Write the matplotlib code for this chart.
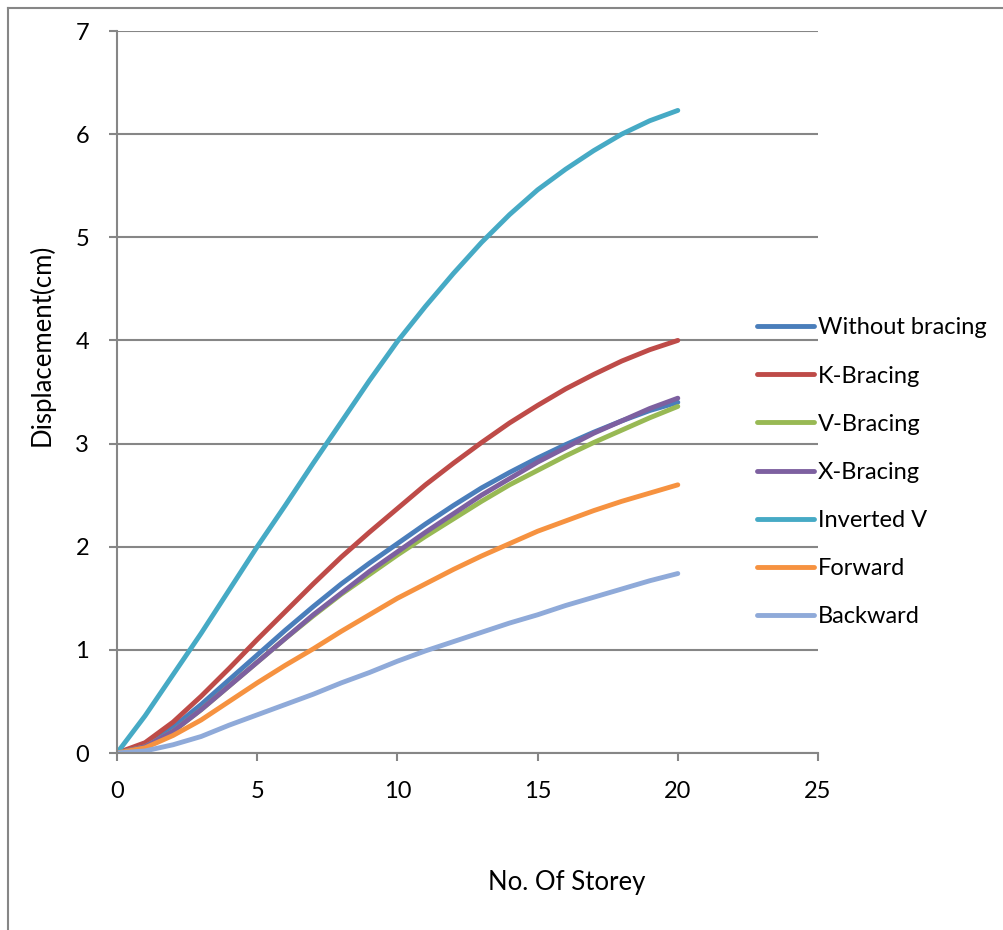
import matplotlib.pyplot as plt
from matplotlib.lines import Line2D

plt.rcParams['font.family'] = ['Lato', 'DejaVu Sans']

storey = list(range(0, 21))

without_bracing = [0, 0.08, 0.25, 0.47, 0.71, 0.95, 1.19, 1.42, 1.64, 1.84, 2.03,
                   2.22, 2.40, 2.57, 2.72, 2.86, 2.99, 3.11, 3.22, 3.32, 3.40]
k_bracing = [0, 0.10, 0.30, 0.55, 0.82, 1.10, 1.37, 1.64, 1.90, 2.14, 2.37,
             2.60, 2.81, 3.01, 3.20, 3.37, 3.53, 3.67, 3.80, 3.91, 4.00]
v_bracing = [0, 0.06, 0.21, 0.42, 0.65, 0.88, 1.11, 1.33, 1.54, 1.73, 1.92,
             2.10, 2.27, 2.44, 2.60, 2.74, 2.88, 3.01, 3.13, 3.25, 3.36]
x_bracing = [0, 0.06, 0.21, 0.42, 0.65, 0.88, 1.11, 1.34, 1.55, 1.76, 1.95,
             2.14, 2.32, 2.50, 2.66, 2.82, 2.96, 3.10, 3.22, 3.34, 3.44]
inverted_v = [0, 0.36, 0.76, 1.16, 1.58, 2.00, 2.40, 2.81, 3.21, 3.61, 3.99,
              4.33, 4.65, 4.95, 5.22, 5.46, 5.66, 5.84, 6.00, 6.13, 6.23]
forward = [0, 0.05, 0.17, 0.32, 0.50, 0.68, 0.85, 1.01, 1.18, 1.34, 1.50,
           1.64, 1.78, 1.91, 2.03, 2.15, 2.25, 2.35, 2.44, 2.52, 2.60]
backward = [0, 0.02, 0.08, 0.16, 0.27, 0.37, 0.47, 0.57, 0.68, 0.78, 0.89,
            0.99, 1.08, 1.17, 1.26, 1.34, 1.43, 1.51, 1.59, 1.67, 1.74]

series = [
    ("Without bracing", without_bracing, "#4A7EBB"),
    ("K-Bracing", k_bracing, "#BE4B48"),
    ("V-Bracing", v_bracing, "#98B954"),
    ("X-Bracing", x_bracing, "#7D60A0"),
    ("Inverted V", inverted_v, "#46AAC5"),
    ("Forward", forward, "#F69240"),
    ("Backward", backward, "#8FAAD9"),
]

grey = "#868686"

fig = plt.figure(figsize=(10.04, 9.3), dpi=100)
ax = fig.add_axes([117 / 1004, 177 / 930, 701 / 1004, 722 / 930])

for name, vals, col in series:
    ax.plot(storey, vals, color=col, lw=3.5, label=name,
            solid_capstyle="round", solid_joinstyle="round")

ax.set_xlim(0, 25)
ax.set_ylim(0, 7)
ax.set_xticks([0, 5, 10, 15, 20, 25])
ax.set_yticks(range(0, 8))
ax.grid(axis="y", color=grey, lw=1.5)
ax.set_axisbelow(True)
for s in ["top", "right"]:
    ax.spines[s].set_visible(False)
for s in ["left", "bottom"]:
    ax.spines[s].set_color(grey)
    ax.spines[s].set_linewidth(1.5)
ax.tick_params(colors=grey, width=1.5, length=6, labelsize=17, labelcolor="black")
ax.tick_params(axis="x", pad=14)
ax.tick_params(axis="y", pad=14)

fig.text(42 / 1004, 1 - 345 / 930, "Displacement(cm)", rotation=90,
         ha="center", va="center", fontsize=18.5)
fig.text(567 / 1004, 1 - 882 / 930, "No. Of Storey", ha="center", va="center",
         fontsize=18.5)

handles = [Line2D([], [], color=c, lw=3.5, solid_capstyle="round") for _, _, c in series]
fig.legend(handles, [n for n, _, _ in series], loc="upper left",
           bbox_to_anchor=(748 / 1004, 1 - 308 / 930), frameon=False,
           fontsize=17, handlelength=2.4, handletextpad=0.15, labelspacing=1.15,
           borderaxespad=0)

# outer chart border (only top and left are inside the image)
fig.add_artist(Line2D([8 / 1004, 8 / 1004], [0, 1 - 8 / 930], color=grey, lw=1.5))
fig.add_artist(Line2D([8 / 1004, 1], [1 - 8 / 930, 1 - 8 / 930], color=grey, lw=1.5))

fig.savefig("out.png", dpi=100)
